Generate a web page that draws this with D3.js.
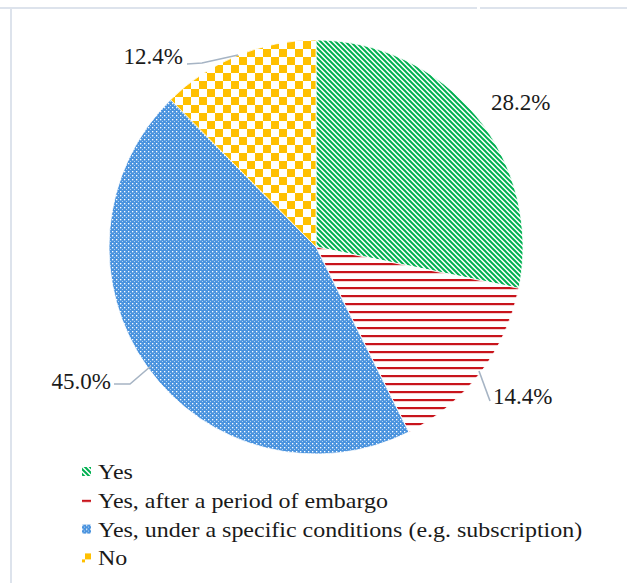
<!DOCTYPE html>
<html>
<head>
<meta charset="utf-8">
<script src="https://cdn.jsdelivr.net/npm/d3@7"></script>
</head>
<body style="margin:0">
<svg id="chart" width="627" height="583"></svg>
<script>
// Share of answers, in percent, drawn clockwise from 12 o'clock
const categories = [
  "Yes",
  "Yes, after a period of embargo",
  "Yes, under a specific conditions (e.g. subscription)",
  "No"
];
const values = [28.2, 14.4, 45.0, 12.4];
const valueLabels = ["28.2%", "14.4%", "45.0%", "12.4%"];

const FONT = '"Liberation Serif", "Times New Roman", Tinos, "DejaVu Serif", serif';
const svg = d3.select("#chart");
const defs = svg.append("defs");

// Hatch fills, one per slice
function stripePattern(id) {
  const p = defs.append("pattern").attr("id", id)
    .attr("patternUnits", "userSpaceOnUse").attr("width", 5).attr("height", 5);
  p.append("rect").attr("width", 5).attr("height", 5).attr("fill", "#ffffff");
  p.append("path").attr("d", "M-1,-1 L6,6 M-4,1 L1,6 M4,-1 L6,1")
    .attr("stroke", "#00b050").attr("stroke-width", 2);
}
function hlinePattern(id) {
  const p = defs.append("pattern").attr("id", id)
    .attr("patternUnits", "userSpaceOnUse").attr("width", 8).attr("height", 8);
  p.append("rect").attr("width", 8).attr("height", 8).attr("fill", "#ffffff");
  p.append("rect").attr("y", 0).attr("width", 8).attr("height", 2.2).attr("fill", "#c8141c");
}
function dotGridPattern(id) {
  const p = defs.append("pattern").attr("id", id)
    .attr("patternUnits", "userSpaceOnUse").attr("width", 4).attr("height", 4);
  p.append("rect").attr("width", 4).attr("height", 4).attr("fill", "#4a93de");
  p.append("rect").attr("x", 0).attr("y", 0).attr("width", 1.3).attr("height", 1.3).attr("fill", "#ffffff");
  p.append("rect").attr("x", 2).attr("y", 2).attr("width", 1).attr("height", 1).attr("fill", "#b0d2f2");
}
function checkerPattern(id) {
  const p = defs.append("pattern").attr("id", id)
    .attr("patternUnits", "userSpaceOnUse").attr("width", 16).attr("height", 16)
    .attr("x", 3).attr("y", 2);
  p.append("rect").attr("width", 16).attr("height", 16).attr("fill", "#ffffff");
  p.append("rect").attr("x", 0).attr("y", 0).attr("width", 8).attr("height", 8).attr("fill", "#ffc000");
  p.append("rect").attr("x", 8).attr("y", 8).attr("width", 8).attr("height", 8).attr("fill", "#ffc000");
}
stripePattern("fill-yes");
hlinePattern("fill-embargo");
dotGridPattern("fill-conditions");
checkerPattern("fill-no");
const fills = ["url(#fill-yes)", "url(#fill-embargo)", "url(#fill-conditions)", "url(#fill-no)"];

// Frame lines of the chart area
svg.append("line").attr("x1", 0).attr("x2", 477).attr("y1", 8).attr("y2", 8)
  .attr("stroke", "#dde3ec").attr("stroke-width", 2);
svg.append("line").attr("x1", 480).attr("x2", 627).attr("y1", 8).attr("y2", 8)
  .attr("stroke", "#dde3ec").attr("stroke-width", 2);
svg.append("line").attr("x1", 11).attr("x2", 11).attr("y1", 8).attr("y2", 583)
  .attr("stroke", "#dde3ec").attr("stroke-width", 2);

// Pie
const cx = 316, cy = 247, r = 207;
const pie = d3.pie().sort(null).value(d => d);
const arcs = pie(values);
const arc = d3.arc().innerRadius(0).outerRadius(r);

const g = svg.append("g").attr("transform", `translate(${cx},${cy})`);
g.selectAll("path.slice").data(arcs).enter().append("path")
  .attr("class", "slice")
  .attr("d", arc)
  .attr("fill", (d, i) => fills[i])
  .attr("stroke", "#ffffff").attr("stroke-width", 0.8);

// Value labels with leader lines
const labelPos = [
  { x: 491, y: 110, anchor: "start", leader: null },
  { x: 493, y: 404, anchor: "start", leader: [[479, 371], [490, 401]] },
  { x: 111, y: 389, anchor: "end",   leader: [[114, 384], [130, 384], [151, 366]] },
  { x: 183, y: 64,  anchor: "end",   leader: [[187, 64], [202, 63], [238, 55]] }
];
const line = d3.line();
labelPos.forEach((p, i) => {
  if (p.leader) {
    svg.append("path").attr("d", line(p.leader))
      .attr("fill", "none").attr("stroke", "#a6b4c4").attr("stroke-width", 1.6);
  }
  svg.append("text").attr("x", p.x).attr("y", p.y)
    .attr("text-anchor", p.anchor)
    .style("font-family", FONT).style("font-size", "23px")
    .style("fill", "#1a1a1a")
    .text(valueLabels[i]);
});

// Legend (entries are slightly widened, like the source layout)
const legend = svg.append("g").attr("transform", "translate(82,479)");
const rowStep = 28.8;
categories.forEach((c, i) => {
  const row = legend.append("g").attr("transform", `translate(0,${i * rowStep})`);
  row.append("rect").attr("x", 0).attr("y", -12).attr("width", 9).attr("height", 9)
    .attr("fill", fills[i]);
  row.append("g").attr("transform", "translate(16,0) scale(1.09,1)")
    .append("text").attr("x", 0).attr("y", 0)
    .style("font-family", FONT).style("font-size", "22px")
    .style("fill", "#1a1a1a")
    .text(c);
});
</script>
</body>
</html>
